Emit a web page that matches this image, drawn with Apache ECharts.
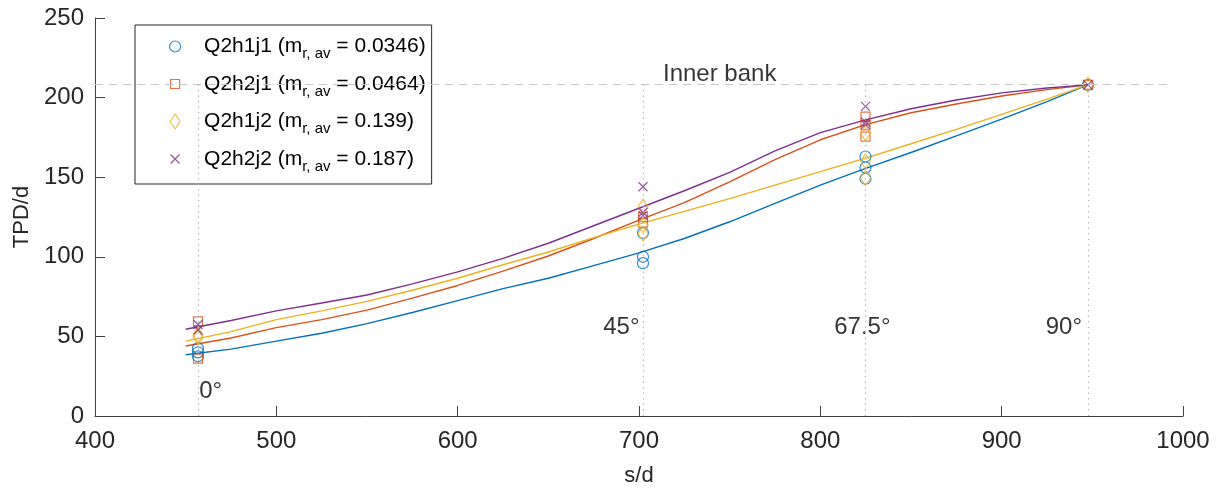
<!DOCTYPE html>
<html>
<head>
<meta charset="utf-8">
<script src="https://cdn.jsdelivr.net/npm/echarts@6/dist/echarts.min.js"></script>
<style>
  html, body { margin: 0; padding: 0; background: #fff; }
  #chart { width: 1219px; height: 493px; }
</style>
</head>
<body>
<div id="chart"></div>
<script>
// Fitted TPD/d curves along the bend (s/d grid shared by all four fits)
const fitS      = [450, 475, 500, 525, 550, 575, 600, 625, 650, 675, 700, 725, 750, 775, 800, 825, 850, 875, 900, 925, 947.5];
const fitQ2h1j1 = [38.5, 42, 47, 52, 58, 65, 72.5, 80, 86.5, 94.5, 102.5, 111.5, 122, 133.5, 145, 155.5, 165.5, 176, 186.5, 197.5, 208];
const fitQ2h2j1 = [44, 49, 55.5, 60.5, 66.5, 74, 82, 91, 100.5, 111.5, 123, 134, 147, 161, 173.5, 183, 190.5, 196, 201, 205, 208];
const fitQ2h1j2 = [47, 53, 60.5, 66, 72, 79, 86.5, 95, 103, 112, 120.5, 128.5, 136.5, 145, 153.5, 162, 171, 180, 189.5, 199, 208];
const fitQ2h2j2 = [54.5, 60, 66, 71, 76, 83, 90.5, 99, 108.5, 119.5, 130.5, 141.5, 153, 166.5, 178, 186, 193, 198.5, 203, 206, 208];

// Measured points [s/d, TPD/d]
const ptsQ2h1j1 = [[456.8, 42.5], [456.8, 40], [456.8, 37.5], [702.2, 115], [702.2, 100], [702.2, 96],
                   [824.9, 163], [824.9, 156], [824.9, 149], [947.6, 208]];
const ptsQ2h2j1 = [[456.8, 59.5], [456.8, 36], [702.2, 125], [702.2, 121.5],
                   [824.9, 188], [824.9, 182.5], [824.9, 175.5], [947.6, 208]];
const ptsQ2h1j2 = [[456.8, 51], [456.8, 49.5], [702.2, 131.5], [702.2, 120], [702.2, 114.5],
                   [824.9, 177.5], [824.9, 160], [824.9, 149.5], [947.6, 208]];
const ptsQ2h2j2 = [[456.8, 57.5], [456.8, 54], [702.2, 144], [702.2, 128], [702.2, 126],
                   [824.9, 194.5], [824.9, 184.5], [824.9, 183], [947.6, 208]];

const seriesNames = ['Q2h1j1', 'Q2h2j1', 'Q2h1j2', 'Q2h2j2'];
const mrav        = ['0.0346', '0.0464', '0.139', '0.187'];

// Cross-section stations and the inner-bank reference level
const stationS   = [456.8, 702.2, 824.9, 947.6];
const innerBankY = 208.2;
const bankLineS  = [400, 993];

// Text annotations [s/d, TPD/d]
const annoText = ['0°', '45°', '67.5°', '90°', 'Inner bank'];
const annoPos  = [[463.8, 15.3], [690.3, 55.8], [823.2, 55.5], [934.3, 55.5], [744.5, 214.3]];

const xTicks = { min: 400, max: 1000, interval: 100 };
const yTicks = { min: 0, max: 250, interval: 50 };

const colors = ['#0072BD', '#D95319', '#EDB120', '#7E2F8E'];
// Hollow marker outlines, each drawn inside a 15x15 box
const symbols = [
  'path://M0,0M15,15M13,7.5A5.5,5.5,0,1,1,2,7.5A5.5,5.5,0,1,1,13,7.5Z',
  'path://M0,0M15,15M3,3L12,3L12,12L3,12Z',
  'path://M0,0M15,15M7.5,0L12.5,7.5L7.5,15L2.5,7.5Z',
  'path://M0,0M15,15M3,3L12,12M12,3L3,12'
];
const FONT = 'Liberation Sans, Arial, Helvetica, sans-serif';

const fits = [fitQ2h1j1, fitQ2h2j1, fitQ2h1j2, fitQ2h2j2];
const pts  = [ptsQ2h1j1, ptsQ2h2j1, ptsQ2h1j2, ptsQ2h2j2];

const series = [];

// reference lines
series.push({
  type: 'line', data: [], silent: true,
  markLine: {
    silent: true, symbol: ['none', 'none'], label: { show: false },
    data: [
      [{ coord: [bankLineS[0], innerBankY], lineStyle: { color: '#c8c8c8', type: [8, 6], width: 1.2 } },
       { coord: [bankLineS[1], innerBankY] }],
      ...stationS.map(s => [
        { coord: [s, 0], lineStyle: { color: '#b8b8b8', type: [1.5, 4], width: 1.2 } },
        { coord: [s, innerBankY] }
      ])
    ]
  },
  z: 1
});

fits.forEach((f, i) => {
  series.push({
    name: 'fit ' + seriesNames[i],
    type: 'line',
    data: fitS.map((s, k) => [s, f[k]]),
    showSymbol: false,
    symbol: 'none',
    smooth: false,
    lineStyle: { color: colors[i], width: 1.4 },
    silent: true,
    z: 2
  });
});

pts.forEach((p, i) => {
  series.push({
    name: seriesNames[i],
    type: 'scatter',
    data: p,
    symbol: symbols[i],
    symbolSize: 15,
    itemStyle: { color: 'rgba(0,0,0,0)', borderColor: colors[i], borderWidth: 1.2 },
    emphasis: { disabled: true },
    silent: true,
    z: 3
  });
});

series.push({
  type: 'scatter',
  silent: true,
  symbolSize: 0,
  data: annoText.map((t, i) => ({ name: t, value: annoPos[i] })),
  label: {
    show: true, position: 'inside', formatter: '{b}',
    color: '#000', fontSize: 24, fontFamily: FONT
  },
  z: 4
});

const chart = echarts.init(document.getElementById('chart'), null, { renderer: 'canvas' });
chart.setOption({
  animation: false,
  backgroundColor: '#fff',
  grid: { left: 95, right: 36, top: 18, bottom: 77, containLabel: false, outerBoundsMode: 'none' },
  xAxis: {
    type: 'value', min: xTicks.min, max: xTicks.max, interval: xTicks.interval,
    name: 's/d', nameLocation: 'middle', nameGap: 49,
    nameTextStyle: { fontSize: 22, color: '#262626', fontFamily: FONT },
    axisLine: { show: true, onZero: false, lineStyle: { color: '#404040', width: 1 } },
    axisTick: { show: true, inside: true, length: 10, lineStyle: { color: '#404040' } },
    axisLabel: { fontSize: 24, color: '#262626', fontFamily: FONT, margin: 13, formatter: v => String(v) },
    splitLine: { show: false }
  },
  yAxis: {
    type: 'value', min: yTicks.min, max: yTicks.max, interval: yTicks.interval,
    name: 'TPD/d', nameLocation: 'middle', nameGap: 55,
    nameTextStyle: { fontSize: 22, color: '#262626', fontFamily: FONT },
    axisLine: { show: true, lineStyle: { color: '#404040', width: 1 } },
    axisTick: { show: true, inside: true, length: 10, lineStyle: { color: '#404040' } },
    axisLabel: { fontSize: 24, color: '#262626', fontFamily: FONT, margin: 11, formatter: v => String(v) },
    splitLine: { show: false }
  },
  legend: {
    data: seriesNames,
    orient: 'vertical',
    left: 135, top: 25,
    itemWidth: 48, itemHeight: 15, itemGap: 12,
    padding: [11, 6, 10, 32],
    backgroundColor: '#fff',
    borderColor: '#262626', borderWidth: 1, borderRadius: 0,
    selectedMode: false,
    itemStyle: { borderWidth: 1.2 },
    formatter: name => {
      const i = seriesNames.indexOf(name);
      return '{n|' + name + ' (m}{s|r, av}{n| = ' + mrav[i] + ')}';
    },
    textStyle: {
      fontFamily: FONT, color: '#000',
      rich: {
        n: { fontSize: 21, lineHeight: 30, fontFamily: FONT, color: '#000', verticalAlign: 'middle' },
        s: { fontSize: 15, lineHeight: 4, fontFamily: FONT, color: '#000', verticalAlign: 'bottom' }
      }
    }
  },
  series: series
});
</script>
</body>
</html>
